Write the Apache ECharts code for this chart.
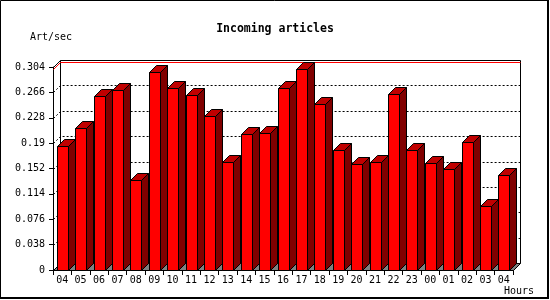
<!DOCTYPE html>
<html>
<head>
<meta charset="utf-8">
<script src="https://cdn.jsdelivr.net/npm/echarts@6/dist/echarts.min.js"></script>
<style>html,body{margin:0;padding:0;background:#fff}#c{width:550px;height:300px}</style>
</head>
<body>
<div id="c"></div>
<script>
const hours = ['04','05','06','07','08','09','10','11','12','13','14','15','16','17','18','19','20','21','22','23','00','01','02','03','04'];
const artPerSec = [0.186,0.213,0.261,0.269,0.135,0.297,0.272,0.262,0.230,0.161,0.203,0.205,0.272,0.301,0.248,0.179,0.158,0.162,0.264,0.179,0.160,0.151,0.192,0.096,0.143];
const yTicks = [0,0.038,0.076,0.114,0.152,0.19,0.228,0.266,0.304];
const titleText = 'Incoming articles';
const yName = 'Art/sec';
const xName = 'Hours';

const D = 7;
const FONT = 'DejaVu Sans Mono';
const maxVal = Math.max.apply(null, artPerSec);
const snap = v => Math.round(v) + 0.5;

function renderPlane(params, api) {
  const cs = params.coordSys;
  const x0 = snap(cs.x), x1 = snap(cs.x + cs.width);
  const yt = snap(cs.y), yb = snap(cs.y + cs.height);
  return {type:'group', children:[
    {type:'polygon', shape:{points:[[x0,yb],[x1,yb],[x1+D,yb-D],[x0+D,yb-D]]}, style:{fill:'#808080', stroke:'#000', lineWidth:1}},
    {type:'polyline', shape:{points:[[x0+D,yb-D],[x0+D,yt-D],[x1+D,yt-D],[x1+D,yb-D]]}, style:{fill:null, stroke:'#000', lineWidth:1}},
    {type:'polyline', shape:{points:[[x0,yt],[x0+D,yt-D]]}, style:{fill:null, stroke:'#000', lineWidth:1}}
  ]};
}
function renderGrid(params, api) {
  const cs = params.coordSys;
  const x0 = snap(cs.x), x1 = snap(cs.x + cs.width);
  const y = snap(api.coord([0, api.value(1)])[1]);
  return {type:'polyline', shape:{points:[[x0,y],[x0+D,y-D],[x1+D,y-D]]}, style:{fill:null, stroke:'#000', lineWidth:1, lineDash:[2,2]}};
}
function renderMax(params, api) {
  const cs = params.coordSys;
  const x0 = snap(cs.x), x1 = snap(cs.x + cs.width);
  const y = snap(api.coord([0, api.value(1)])[1]);
  return {type:'polyline', shape:{points:[[x0,y],[x0+D,y-D],[x1+D,y-D]]}, style:{fill:null, stroke:'#ff0000', lineWidth:1}};
}
function renderBar(params, api) {
  const i = api.value(0), v = api.value(1);
  const p = api.coord([i, v]);
  const p0 = api.coord([i, 0]);
  const bw = api.size([1, 0])[0];
  const w = Math.round(bw * 0.6);
  const L = snap(p[0] - w / 2);
  const R = L + w;
  const top = snap(p[1]);
  const base = snap(p0[1]);
  return {type:'group', children:[
    {type:'polygon', shape:{points:[[R,top],[R+D,top-D],[R+D,base-D],[R,base]]}, style:{fill:'#800000', stroke:'#000', lineWidth:1}},
    {type:'polygon', shape:{points:[[L,top],[L+D,top-D],[R+D,top-D],[R,top]]}, style:{fill:'#c00000', stroke:'#000', lineWidth:1}},
    {type:'rect', shape:{x:L, y:top, width:w, height:base-top}, style:{fill:'#ff0000', stroke:'#000', lineWidth:1}}
  ]};
}

const chart = echarts.init(document.getElementById('c'), null, {renderer:'canvas'});
chart.setOption({
  animation: false,
  backgroundColor: '#fff',
  title: {text: titleText, left: 'center', top: 18,
    textStyle: {fontFamily: FONT, fontWeight: 'bold', fontSize: 11.5, color: '#000'}},
  grid: {left: 53, right: 37, top: 67, bottom: 30},
  xAxis: {type: 'category', data: hours, boundaryGap: true,
    axisLine: {lineStyle: {color: '#000', width: 1}},
    axisTick: {show: true, interval: 0, length: 5, lineStyle: {color: '#000'}},
    axisLabel: {interval: 0, margin: 5, fontFamily: FONT, fontSize: 10, color: '#000'},
    splitLine: {show: false}},
  yAxis: {type: 'value', min: yTicks[0], max: yTicks[yTicks.length-1], interval: yTicks[1] - yTicks[0],
    axisLine: {show: true, lineStyle: {color: '#000', width: 1}},
    axisTick: {show: true, length: 4, lineStyle: {color: '#000'}},
    axisLabel: {margin: 8, fontFamily: FONT, fontSize: 10, color: '#000',
      formatter: v => String(parseFloat(v.toFixed(3)))},
    splitLine: {show: false}},
  graphic: [
    {type:'text', left: 30, top: 32, style:{text: yName, font: '10px "DejaVu Sans Mono"', fill:'#000'}},
    {type:'text', left: 504, top: 286, style:{text: xName, font: '10px "DejaVu Sans Mono"', fill:'#000'}},
    {type:'polyline', shape:{points:[[0.5,298],[0.5,0.5],[548,0.5]]}, style:{fill:null, stroke:'#000', lineWidth:1}},
    {type:'line', shape:{x1:548, y1:0, x2:548, y2:299}, style:{stroke:'#000', lineWidth:2}},
    {type:'line', shape:{x1:0, y1:298, x2:549, y2:298}, style:{stroke:'#000', lineWidth:2}}
  ],
  series: [
    {type:'custom', z:1, silent:true, renderItem: renderPlane, encode:{x:0,y:1}, data:[[0,0]]},
    {type:'custom', z:2, silent:true, renderItem: renderGrid, encode:{x:0,y:1},
      data: yTicks.slice(1, -1).map(v => [0, v])},
    {type:'custom', z:3, silent:true, renderItem: renderMax, encode:{x:0,y:1}, data:[[0, maxVal]]},
    {type:'custom', z:4, renderItem: renderBar, encode:{x:0,y:1},
      data: artPerSec.map((v, i) => [i, v])}
  ]
});
</script>
</body>
</html>
